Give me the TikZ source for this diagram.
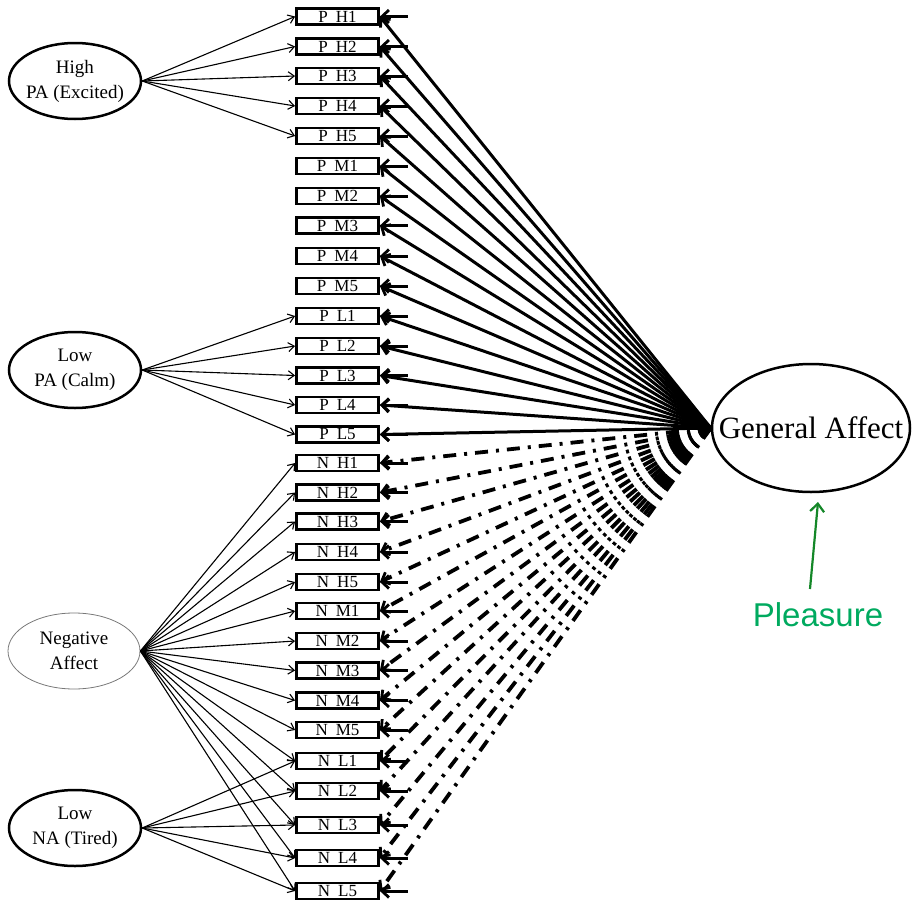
\documentclass[tikz,border=0pt]{standalone}
\usepackage{fontspec}
\setmainfont{Liberation Serif}
\newfontfamily\plfont{Liberation Sans}
\usetikzlibrary{arrows.meta,shapes.geometric}
\definecolor{plgreen}{RGB}{0,170,95}
\definecolor{arrgreen}{RGB}{20,135,40}
\definecolor{naGray}{RGB}{120,120,120}
\newcommand\boxlab[2]{#1\hspace{8pt}#2}
\begin{document}
\begin{tikzpicture}[x=1pt,y=-1pt,
  obs/.style={draw, line width=2.8pt, minimum width=82pt, minimum height=16pt, inner sep=0pt, font=\fontsize{17}{17}\selectfont},
  latent/.style={ellipse, draw, line width=2.5pt, minimum width=132pt, minimum height=76pt, inner sep=0pt, inner xsep=-8pt, align=center, font=\fontsize{19}{25}\selectfont},
  gray latent/.style={latent, line width=0.8pt, draw=naGray},
  big latent/.style={ellipse, draw, line width=2.5pt, minimum width=198pt, minimum height=128pt, inner sep=0pt, inner xsep=-24pt, font=\fontsize{31}{31}\selectfont},
  thinarr/.style={line width=1.1pt, -{Straight Barb[length=6pt,width=9pt,line width=1.1pt]}},
  thickarr/.style={line width=3pt, -{Straight Barb[length=7pt,width=13pt,line width=2.8pt]}},
  dasharr/.style={thickarr, line width=3.8pt, dash pattern=on 13pt off 8pt on 3pt off 8pt},
  errarr/.style={thickarr}
]
\useasboundingbox (0,0) rectangle (914,905);

% observed indicators
\foreach \n/\a/\b/\y in {
  PH1/P/H1/16.5, PH2/P/H2/46.5, PH3/P/H3/76, PH4/P/H4/106, PH5/P/H5/136,
  PM1/P/M1/166, PM2/P/M2/196, PM3/P/M3/225.5, PM4/P/M4/256, PM5/P/M5/286,
  PL1/P/L1/316, PL2/P/L2/346, PL3/P/L3/375.5, PL4/P/L4/405, PL5/P/L5/434.5,
  NH1/N/H1/463, NH2/N/H2/492.5, NH3/N/H3/521.5, NH4/N/H4/552, NH5/N/H5/582,
  NM1/N/M1/611, NM2/N/M2/641, NM3/N/M3/670.5, NM4/N/M4/700.5, NM5/N/M5/730,
  NL1/N/L1/761, NL2/N/L2/791, NL3/N/L3/825, NL4/N/L4/858, NL5/N/L5/891}
  {\node[obs] (\n) at (337.5,\y) {\boxlab{\a}{\b}};}

% latent factors
\node[latent] (HPA) at (75,81) {High\\PA (Excited)};
\node[latent] (LPA) at (75,370) {Low\\PA (Calm)};
\node[gray latent] (NA) at (74,651) {Negative\\Affect};
\node[latent] (LNA) at (75,828) {Low\\NA (Tired)};
\node[big latent] (GA) at (811,428) {General Affect};

% left loadings
\foreach \n in {PH1,PH2,PH3,PH4,PH5} \draw[thinarr] (HPA.east) -- (\n.west);
\foreach \n in {PL1,PL2,PL3,PL4,PL5} \draw[thinarr] (LPA.east) -- (\n.west);
\foreach \n in {NH1,NH2,NH3,NH4,NH5,NM1,NM2,NM3,NM4,NM5,NL1,NL2,NL3,NL4,NL5}
  \draw[thinarr] (NA.east) -- (\n.west);
\foreach \n in {NL1,NL2,NL3,NL4,NL5} \draw[thinarr] (LNA.east) -- (\n.west);

% general factor loadings
\foreach \n in {PH1,PH2,PH3,PH4,PH5,PM1,PM2,PM3,PM4,PM5,PL1,PL2,PL3,PL4,PL5}
  \draw[thickarr] (GA.west) -- (\n.east);
\foreach \n in {NH1,NH2,NH3,NH4,NH5,NM1,NM2,NM3,NM4,NM5,NL1,NL2,NL3,NL4,NL5}
  \draw[dasharr] (GA.west) -- (\n.east);

% error terms
\foreach \n in {PH1,PH2,PH3,PH4,PH5,PM1,PM2,PM3,PM4,PM5,PL1,PL2,PL3,PL4,PL5,
                NH1,NH2,NH3,NH4,NH5,NM1,NM2,NM3,NM4,NM5,NL1,NL2,NL3,NL4,NL5}
  {\coordinate (e\n) at ([xshift=28pt]\n.east);
   \draw[errarr] (e\n) -- (\n.east);}

% Pleasure annotation
\node[font=\plfont\fontsize{33}{33}\selectfont, text=plgreen, inner sep=0pt] (PL) at (818,615) {Pleasure};
\coordinate (plS) at (810,589);
\coordinate (plE) at (818,502);
\draw[arrgreen, line width=2.2pt, -{Straight Barb[length=8pt,width=14pt,line width=2.2pt]}] (plS) -- (plE);
\end{tikzpicture}
\end{document}
